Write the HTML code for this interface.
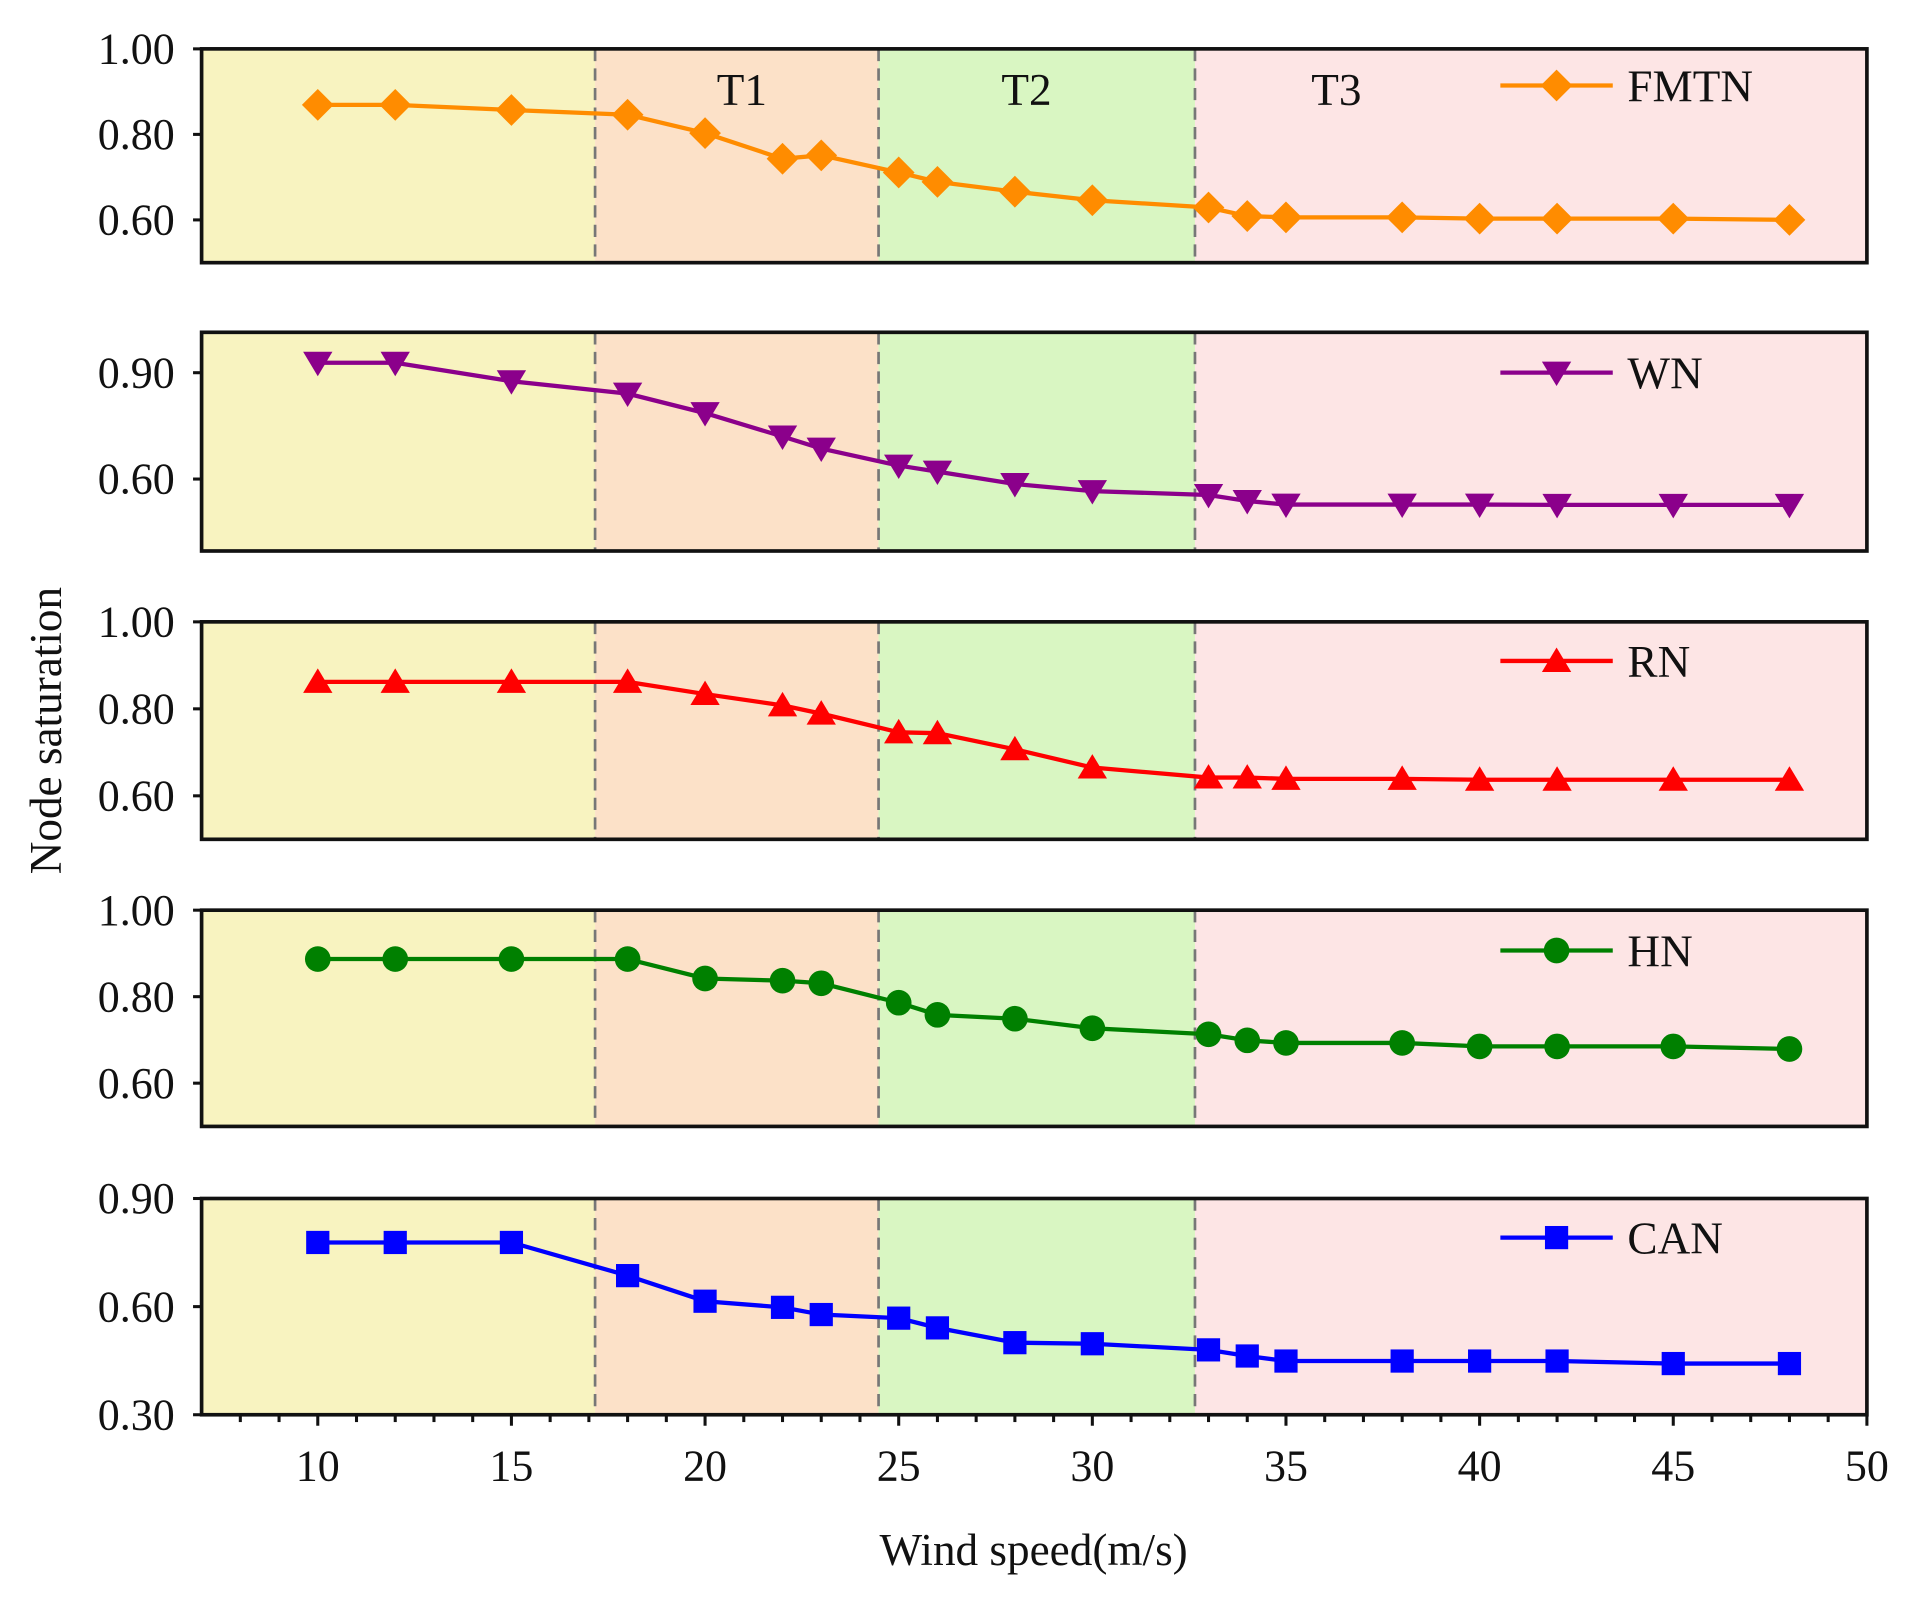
<!DOCTYPE html>
<html><head><meta charset="utf-8"><style>html,body{margin:0;padding:0;background:#fff}svg{display:block}</style></head>
<body>
<svg id="chart" width="1906" height="1598" viewBox="0 0 1560 1308" preserveAspectRatio="none" xmlns="http://www.w3.org/2000/svg" font-family="'Liberation Serif', serif">
</svg>
<script>
const xs = [10,12,15,18,20,22,23,25,26,28,30,33,34,35,38,40,42,45,48];
const fmtn = [0.869,0.869,0.857,0.846,0.803,0.743,0.751,0.711,0.689,0.666,0.646,0.629,0.609,0.606,0.606,0.603,0.603,0.603,0.600];
const wn = [0.928,0.928,0.876,0.841,0.786,0.720,0.686,0.638,0.621,0.586,0.566,0.555,0.538,0.528,0.528,0.528,0.527,0.527,0.527];
const rn = [0.862,0.862,0.862,0.862,0.834,0.808,0.789,0.746,0.744,0.707,0.665,0.642,0.642,0.639,0.639,0.637,0.637,0.637,0.637];
const hn = [0.887,0.887,0.887,0.887,0.842,0.837,0.831,0.786,0.758,0.749,0.727,0.713,0.699,0.693,0.693,0.685,0.685,0.685,0.679];
const can = [0.778,0.778,0.778,0.686,0.615,0.598,0.578,0.568,0.541,0.500,0.497,0.480,0.463,0.449,0.449,0.449,0.449,0.442,0.442];
const regionBounds = [7,17.16,24.48,32.65,50];
const regionLabels = ["","T1","T2","T3"];
const regionLabelX = [0,20.95,28.3,36.3];
const xTicks = [10,15,20,25,30,35,40,45,50];
const seriesNames = ["FMTN","WN","RN","HN","CAN"];
const yTicks1 = [0.60,0.80,1.00];
const yTicks2 = [0.60,0.90];
const yTicks5 = [0.30,0.60,0.90];

const NS="http://www.w3.org/2000/svg";
const svg=document.getElementById('chart');
function mk(tag,attrs,parent){const e=document.createElementNS(NS,tag);for(const k in attrs)e.setAttribute(k,attrs[k]);(parent||svg).appendChild(e);return e;}
const L=165,R=1528;
function xScale(v){return L+(v-7)/(50-7)*(R-L);}
const panels=[
 {data:fmtn,color:"#ff8c00",marker:"diamond",top:40,bot:215,dom:[0.5,1.0],ticks:yTicks1},
 {data:wn,color:"#8b008b",marker:"tdown",top:272,bot:451,dom:[0.397,1.014],ticks:yTicks2},
 {data:rn,color:"#ff0000",marker:"tup",top:509,bot:687,dom:[0.5,1.0],ticks:yTicks1},
 {data:hn,color:"#008000",marker:"circle",top:745,bot:922,dom:[0.5,1.0],ticks:yTicks1},
 {data:can,color:"#0000ff",marker:"square",top:981,bot:1158,dom:[0.3,0.9],ticks:yTicks5}
];
const fills=["#f8f3c0","#fce1c8","#d9f6c2","#fde5e5"];
function drawMarker(g,type,cx,cy,color){
  let e;
  if(type==="diamond")e=mk('polygon',{points:`${cx},${cy-13} ${cx+13},${cy} ${cx},${cy+13} ${cx-13},${cy}`,fill:color},g);
  else if(type==="tdown")e=mk('polygon',{points:`${cx-12},${cy-9} ${cx+12},${cy-9} ${cx},${cy+11}`,fill:color},g);
  else if(type==="tup")e=mk('polygon',{points:`${cx-12},${cy+9} ${cx+12},${cy+9} ${cx},${cy-11}`,fill:color},g);
  else if(type==="circle")e=mk('circle',{cx:cx,cy:cy,r:10.5,fill:color},g);
  else e=mk('rect',{x:cx-9.5,y:cy-9.5,width:19,height:19,fill:color},g);
  return e;
}
panels.forEach((p,pi)=>{
  const g=mk('g',{});
  
  
  const yS=v=>p.bot-(v-p.dom[0])/(p.dom[1]-p.dom[0])*(p.bot-p.top);
  for(let i=0;i<4;i++){
    const r=mk('rect',{x:xScale(regionBounds[i]),y:p.top,width:xScale(regionBounds[i+1])-xScale(regionBounds[i]),height:p.bot-p.top,fill:fills[i]},g);
    
    
  }
  for(let i=1;i<4;i++){
    const l=mk('line',{x1:xScale(regionBounds[i]),x2:xScale(regionBounds[i]),y1:p.top,y2:p.bot,stroke:"#777","stroke-width":2.2,"stroke-dasharray":"10,6"},g);
    
    
  }
  if(pi===0){
    for(let i=1;i<4;i++){
      const t=mk('text',{x:xScale(regionLabelX[i]),y:p.top+46,"font-size":37,"text-anchor":"middle",fill:"#111"},g);
      t.textContent=regionLabels[i];
      
      
    }
  }
  const pts=xs.map((x,i)=>xScale(x)+","+yS(p.data[i])).join(" ");
  const ln=mk('polyline',{points:pts,fill:"none",stroke:p.color,"stroke-width":3.5},g);
  
  
  xs.forEach((x,i)=>{
    const m=drawMarker(g,p.marker,xScale(x),yS(p.data[i]),p.color);
    
    
  });
  const fr=mk('rect',{x:L,y:p.top,width:R-L,height:p.bot-p.top,fill:"none",stroke:"#111","stroke-width":3},g);
  
  
  p.ticks.forEach(t=>{
    const y=yS(t);
    mk('line',{x1:L-7,x2:L,y1:y,y2:y,stroke:"#111","stroke-width":2.5},g);
    const tx=mk('text',{x:L-22,y:y+12,"font-size":36,"text-anchor":"end",fill:"#111"},g);
    tx.textContent=t.toFixed(2);
    
    
  });
  const ly=[70,305,541,778,1013][pi];
  const lg=mk('g',{},g);
  
  
  mk('line',{x1:1228,x2:1320,y1:ly,y2:ly,stroke:p.color,"stroke-width":3.5},lg);
  drawMarker(lg,p.marker,1274,ly,p.color);
  const lt=mk('text',{x:1332,y:ly+13,"font-size":37,fill:"#111"},lg);
  lt.textContent=seriesNames[pi];
});
const bot=1158;
for(let v=8;v<=50;v++){
  const major=v%5===0;
  mk('line',{x1:xScale(v),x2:xScale(v),y1:bot,y2:bot+(major?9:6),stroke:"#111","stroke-width":2.5});
}
xTicks.forEach(v=>{
  const t=mk('text',{x:xScale(v),y:bot+54,"font-size":36,"text-anchor":"middle",fill:"#111"});
  t.textContent=v;
  
  
});
const xt=mk('text',{x:846,y:1281,"font-size":37,"text-anchor":"middle",fill:"#111"});
xt.textContent="Wind speed(m/s)";


const yt=mk('text',{x:0,y:0,"font-size":37,"text-anchor":"middle",fill:"#111",transform:"translate(50,598) rotate(-90)"});
yt.textContent="Node saturation";


</script>
</body></html>
